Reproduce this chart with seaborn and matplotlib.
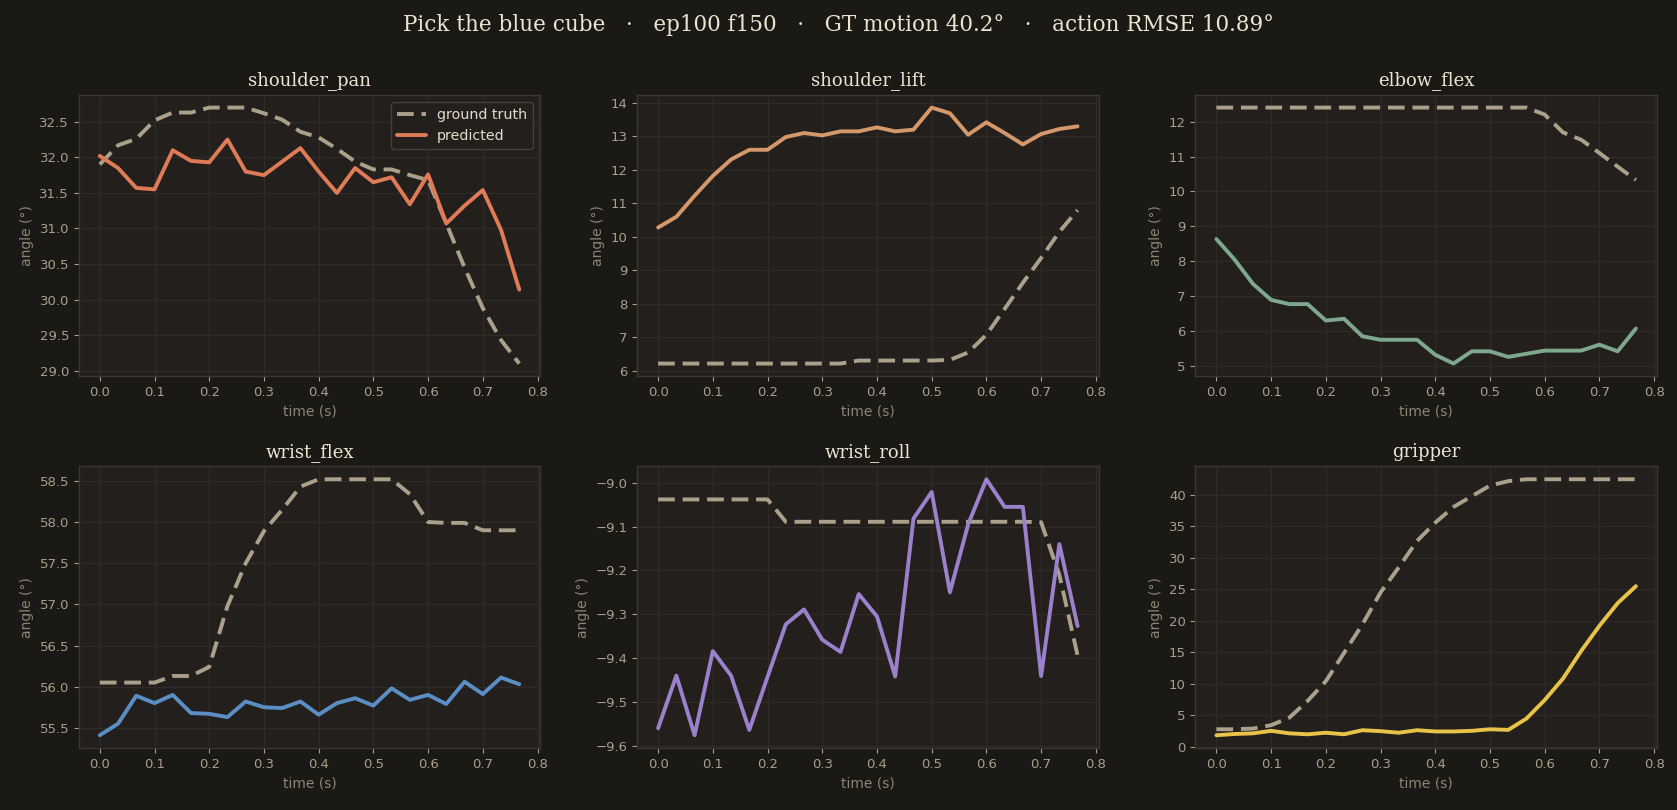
import numpy as np
import pandas as pd
import matplotlib
matplotlib.use("Agg")
import matplotlib.pyplot as plt
import seaborn as sns

# ---------------- data ----------------
time_s = [i / 30 for i in range(24)]

joints = ["shoulder_pan", "shoulder_lift", "elbow_flex",
          "wrist_flex", "wrist_roll", "gripper"]

gt_shoulder_pan = [31.90, 32.17, 32.26, 32.52, 32.63, 32.63, 32.70, 32.70, 32.70, 32.62,
                   32.53, 32.36, 32.28, 32.12, 31.94, 31.83, 31.83, 31.75, 31.68, 31.07,
                   30.45, 29.88, 29.43, 29.10]
pred_shoulder_pan = [32.02, 31.85, 31.57, 31.55, 32.10, 31.95, 31.93, 32.25, 31.80, 31.75,
                     31.94, 32.13, 31.80, 31.50, 31.85, 31.65, 31.72, 31.34, 31.76, 31.07,
                     31.32, 31.54, 30.98, 30.14]

gt_shoulder_lift = [6.22, 6.22, 6.22, 6.22, 6.22, 6.22, 6.22, 6.22, 6.22, 6.22,
                    6.22, 6.31, 6.31, 6.31, 6.31, 6.31, 6.33, 6.55, 7.08, 7.85,
                    8.63, 9.37, 10.15, 10.80]
pred_shoulder_lift = [10.28, 10.60, 11.23, 11.82, 12.31, 12.60, 12.60, 12.98, 13.10, 13.03,
                      13.15, 13.15, 13.27, 13.15, 13.20, 13.86, 13.69, 13.05, 13.42, 13.10,
                      12.76, 13.07, 13.22, 13.30]

gt_elbow_flex = [12.40, 12.40, 12.40, 12.40, 12.40, 12.40, 12.40, 12.40, 12.40, 12.40,
                 12.40, 12.40, 12.40, 12.40, 12.40, 12.40, 12.40, 12.40, 12.20, 11.69,
                 11.48, 11.10, 10.71, 10.33]
pred_elbow_flex = [8.64, 8.05, 7.36, 6.90, 6.78, 6.78, 6.31, 6.36, 5.86, 5.76,
                   5.76, 5.76, 5.33, 5.08, 5.43, 5.43, 5.27, 5.36, 5.45, 5.45,
                   5.45, 5.62, 5.43, 6.08]

gt_wrist_flex = [56.05, 56.05, 56.05, 56.05, 56.13, 56.13, 56.24, 56.98, 57.50, 57.89,
                 58.15, 58.43, 58.52, 58.52, 58.52, 58.52, 58.52, 58.34, 58.00, 57.99,
                 57.99, 57.90, 57.90, 57.90]
pred_wrist_flex = [55.41, 55.55, 55.89, 55.80, 55.90, 55.68, 55.67, 55.63, 55.82, 55.75,
                   55.74, 55.82, 55.66, 55.80, 55.86, 55.77, 55.98, 55.84, 55.90, 55.79,
                   56.06, 55.91, 56.11, 56.03]

gt_wrist_roll = [-9.038, -9.038, -9.038, -9.038, -9.038, -9.038, -9.038, -9.089, -9.089, -9.089,
                 -9.089, -9.089, -9.089, -9.089, -9.089, -9.089, -9.089, -9.089, -9.089, -9.089,
                 -9.089, -9.090, -9.210, -9.394]
pred_wrist_roll = [-9.56, -9.44, -9.576, -9.384, -9.44, -9.564, -9.443, -9.323, -9.289, -9.358,
                   -9.386, -9.254, -9.305, -9.442, -9.082, -9.021, -9.250, -9.095, -8.992, -9.055,
                   -9.055, -9.441, -9.140, -9.327]

gt_gripper = [2.75, 2.75, 2.86, 3.40, 4.60, 7.26, 10.40, 14.90, 19.40, 24.50,
              28.50, 32.70, 35.60, 38.10, 39.80, 41.50, 42.20, 42.50, 42.50, 42.50,
              42.50, 42.50, 42.50, 42.50]
pred_gripper = [1.80, 2.00, 2.10, 2.50, 2.10, 1.95, 2.20, 1.95, 2.60, 2.45,
                2.20, 2.60, 2.40, 2.40, 2.50, 2.75, 2.65, 4.45, 7.40, 10.80,
                15.20, 19.20, 22.80, 25.50]

gt_series = [gt_shoulder_pan, gt_shoulder_lift, gt_elbow_flex,
             gt_wrist_flex, gt_wrist_roll, gt_gripper]
pred_series = [pred_shoulder_pan, pred_shoulder_lift, pred_elbow_flex,
               pred_wrist_flex, pred_wrist_roll, pred_gripper]

title_text = "Pick the blue cube   \u00b7   ep100 f150   \u00b7   GT motion 40.2\u00b0   \u00b7   action RMSE 10.89\u00b0"

# ---------------- style ----------------
FIG_BG = "#1b1916"
AX_BG = "#231f1c"
GRID = "#2f2b27"
SPINE = "#3b3631"
TICK = "#a89f8c"
LABEL = "#8c8474"
TITLE = "#ece4d0"
GT_COLOR = "#aba08a"
pred_colors = ["#e07b58", "#d4986b", "#7ea88e", "#5b8ec4", "#9b80cc", "#e9c349"]

sns.set_theme(style="dark")
plt.rcParams.update({
    "figure.facecolor": FIG_BG,
    "axes.facecolor": AX_BG,
    "axes.edgecolor": SPINE,
    "axes.linewidth": 1.0,
    "axes.grid": True,
    "grid.color": GRID,
    "grid.linewidth": 0.9,
    "xtick.color": TICK,
    "ytick.color": TICK,
    "xtick.labelcolor": TICK,
    "ytick.labelcolor": TICK,
    "xtick.labelsize": 9.5,
    "ytick.labelsize": 9.5,
    "xtick.bottom": True,
    "ytick.left": True,
    "xtick.major.size": 3.5,
    "ytick.major.size": 3.5,
    "axes.labelcolor": LABEL,
    "axes.labelsize": 10,
    "text.color": TITLE,
})
plt.rcParams["font.family"] = ["DejaVu Sans"]

fig, axes = plt.subplots(2, 3, figsize=(16.77, 8.10), dpi=100)
fig.subplots_adjust(left=0.047, right=0.988, top=0.883, bottom=0.0765,
                    wspace=0.21, hspace=0.32)

for i, ax in enumerate(axes.flat):
    df = pd.DataFrame({"time": time_s, "gt": gt_series[i], "pred": pred_series[i]})
    sns.lineplot(data=df, x="time", y="gt", ax=ax, color=GT_COLOR, linewidth=2.8,
                 linestyle=(0, (4.3, 2.0)), label="ground truth", legend=False)
    sns.lineplot(data=df, x="time", y="pred", ax=ax, color=pred_colors[i], linewidth=2.8,
                 label="predicted", legend=False)
    ax.set_title(joints[i], family="DejaVu Serif", fontsize=13, color=TITLE, pad=7)
    ax.set_xlabel("time (s)", color=LABEL)
    ax.set_ylabel("angle (\u00b0)", color=LABEL)
    ax.set_xticks([0.0, 0.1, 0.2, 0.3, 0.4, 0.5, 0.6, 0.7, 0.8])
    ax.tick_params(colors=TICK, length=3.5, width=0.8)
    for sp in ax.spines.values():
        sp.set_color(SPINE)
    ax.grid(True, color=GRID, linewidth=0.9)

leg = axes[0, 0].legend(loc="upper right", fontsize=10.3, frameon=True,
                        facecolor=AX_BG, edgecolor="#45403a", labelcolor="#e4dccb",
                        framealpha=1.0)

fig.suptitle(title_text, family="DejaVu Serif", fontsize=15.5, color=TITLE, y=0.983)

fig.savefig("out.png", dpi=100, facecolor=FIG_BG)
